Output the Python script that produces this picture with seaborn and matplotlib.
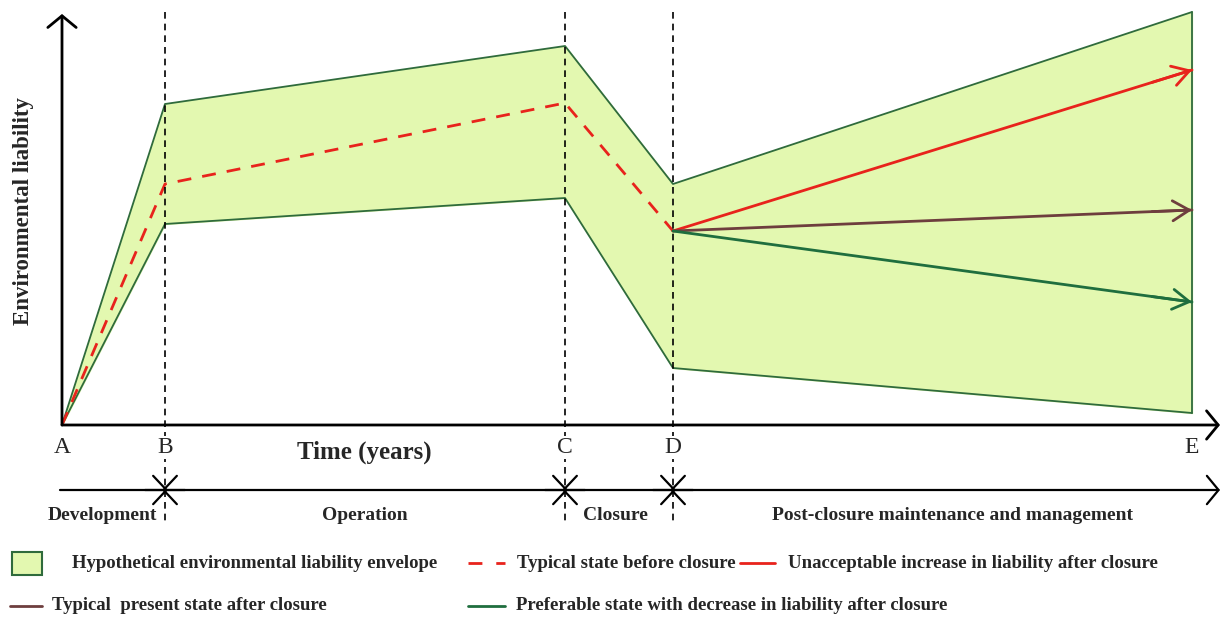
import matplotlib
matplotlib.use('Agg')
import numpy as np
import pandas as pd
import matplotlib.pyplot as plt
import seaborn as sns
from matplotlib.patches import Rectangle
from matplotlib.lines import Line2D

# puntos del ciclo de vida (A..E) y valores
etapas = ['A', 'B', 'C', 'D', 'E']
tiempo = [0, 103, 503, 611, 1130]
envolvente_sup = [0, 321, 379, 241, 413]
envolvente_inf = [0, 201, 227, 57, 12]
antes_cierre = [0, 241, 322, 194]
post_inaceptable = [194, 355]
post_tipico = [194, 215]
post_preferible = [194, 123]

fases = ['Development', 'Operation', 'Closure', 'Post-closure maintenance and management']
fases_centro = [40, 303, 553, 891]

leyenda = ['Hypothetical environmental liability envelope',
           'Typical state before closure',
           'Unacceptable increase in liability after closure',
           'Typical  present state after closure',
           'Preferable state with decrease in liability after closure']

c_relleno = '#e3f8b0'
c_borde = '#2f6b3c'
c_rojo = '#e8231c'
c_cafe = '#6e3e3e'
c_verde = '#1f6e3e'

sns.set_theme(style="white")
plt.rcParams['font.family'] = ['Liberation Serif', 'DejaVu Serif']

fig = plt.figure(figsize=(12.25, 6.19), dpi=100)
ax = fig.add_axes([0, 0, 1, 1])
ax.set_xlim(-62, 1163)
ax.set_ylim(-194, 425)
ax.axis('off')

# envolvente
ax.fill_between(tiempo, envolvente_inf, envolvente_sup, color=c_relleno, zorder=1)
sns.lineplot(x=tiempo, y=envolvente_sup, color=c_borde, lw=1.3, ax=ax, zorder=2)
sns.lineplot(x=tiempo, y=envolvente_inf, color=c_borde, lw=1.3, ax=ax, zorder=2)
ax.plot([tiempo[-1], tiempo[-1]], [envolvente_inf[-1], envolvente_sup[-1]], color=c_borde, lw=1.3, zorder=2)

# estado antes del cierre
sns.lineplot(x=tiempo[:4], y=antes_cierre, color=c_rojo, lw=2, ax=ax, zorder=3)
ax.lines[-1].set_dashes([5, 4])

# trayectorias después del cierre
for serie, col in [(post_inaceptable, c_rojo), (post_tipico, c_cafe), (post_preferible, c_verde)]:
    xs = [tiempo[3], tiempo[4]]
    sns.lineplot(x=xs, y=serie, color=col, lw=2, ax=ax, zorder=4)
    pend = (serie[1] - serie[0]) / (xs[1] - xs[0])
    ax.annotate('', xy=(xs[1], serie[1]), xytext=(xs[1] - 40, serie[1] - pend * 40),
                arrowprops=dict(arrowstyle='->,head_length=1.0,head_width=0.6', color=col, lw=2,
                                shrinkA=0, shrinkB=0), zorder=4)

# líneas verticales discontinuas en B, C, D
for t in tiempo[1:4]:
    ax.plot([t, t], [413, -97], color='black', lw=1.2, ls=(0, (4, 3)), zorder=5)

# ejes con flechas
flecha = dict(arrowstyle='->,head_length=0.7,head_width=0.85', color='black', lw=2, shrinkA=0, shrinkB=0)
ax.annotate('', xy=(0, 411), xytext=(0, 0), arrowprops=flecha)
ax.annotate('', xy=(1158, 0), xytext=(0, 0), arrowprops=flecha)
for et, t in zip(etapas, tiempo):
    ax.text(t, -12, et, ha='center', va='top', fontsize=17, zorder=6,
            bbox=dict(facecolor='white', edgecolor='none', pad=1))

ax.text(302, -27, 'Time (years)', ha='center', va='center', fontsize=18, fontweight='bold')
ax.text(-39, 214, 'Environmental liability', ha='center', va='center', rotation=90,
        fontsize=16.5, fontweight='bold')

# línea de fases
y_fase = -65
ax.annotate('', xy=(1158, y_fase), xytext=(-2, y_fase),
            arrowprops=dict(flecha, lw=1.6))
for t in tiempo[1:4]:
    for d in (-1, 1):
        ax.annotate('', xy=(t - 3 * d, y_fase), xytext=(t + 20 * d, y_fase),
                    arrowprops=dict(arrowstyle='->,head_length=0.8,head_width=0.85', color='black',
                                    lw=1.6, shrinkA=0, shrinkB=0))
for f, xc in zip(fases, fases_centro):
    ax.text(xc, -90, f, ha='center', va='center', fontsize=14, fontweight='bold', zorder=6,
            bbox=dict(facecolor='white', edgecolor='none', pad=0))

# leyenda manual
fs = 13.5
ax.add_patch(Rectangle((-50, -150), 30, 23, facecolor=c_relleno, edgecolor=c_borde, lw=1.5))
ax.text(10, -138, leyenda[0], ha='left', va='center', fontsize=fs, fontweight='bold')
ax.add_line(Line2D([406, 443], [-138, -138], color=c_rojo, lw=2, dashes=[5, 5]))
ax.text(455, -138, leyenda[1], ha='left', va='center', fontsize=fs, fontweight='bold')
ax.add_line(Line2D([678, 713], [-138, -138], color=c_rojo, lw=2))
ax.text(726, -138, leyenda[2], ha='left', va='center', fontsize=fs, fontweight='bold')
ax.add_line(Line2D([-52, -20], [-181, -181], color=c_cafe, lw=2))
ax.text(-10, -181, leyenda[3], ha='left', va='center', fontsize=fs, fontweight='bold')
ax.add_line(Line2D([406, 443], [-181, -181], color=c_verde, lw=2))
ax.text(454, -181, leyenda[4], ha='left', va='center', fontsize=fs, fontweight='bold')

fig.savefig('out.png', dpi=100)
